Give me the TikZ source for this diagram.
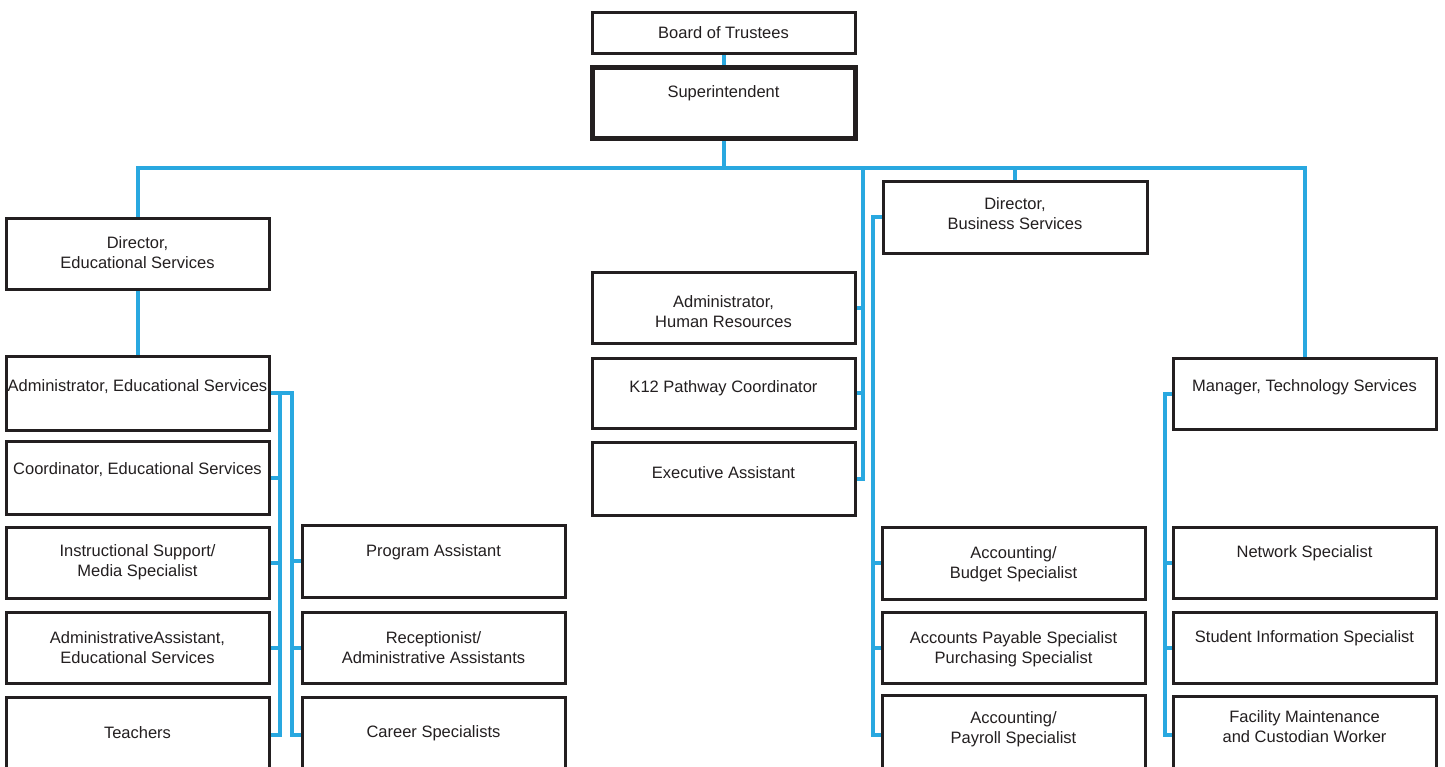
\documentclass[tikz,border=0pt]{standalone}
\usepackage{fontspec}
\setmainfont{Liberation Sans}
\definecolor{orgblue}{HTML}{29A8E0}
\definecolor{boxline}{HTML}{231F20}
\pgfdeclarelayer{back}
\pgfdeclarelayer{bg}
\pgfsetlayers{back,bg,main}
\tikzset{
  box/.style={draw=boxline, line width=3pt, inner sep=0pt, fill=white},
  bigbox/.style={box, line width=5pt},
  txt/.style={align=center, font=\fontsize{16.5}{20}\selectfont, text=boxline, inner sep=0pt},
  conn/.style={draw=orgblue, line width=4pt, line join=miter, line cap=butt}
}
% [style]{name}{x1}{y1}{x2}{y2}{text y}{text}
\newcommand\orgbox[8][box]{%
  \node[#1, minimum width={(#5-#3)*1pt}, minimum height={(#6-#4)*1pt}] (#2) at ({(#3+#5)/2},{(#4+#6)/2}) {};
  \node[txt] (#2t) at ({(#3+#5)/2},#7) {#8};
}
\begin{document}
\begin{tikzpicture}[x=1pt,y=-1pt]
\begin{pgfonlayer}{back}
\fill[white] (0,0) rectangle (1445,766);
\end{pgfonlayer}
\clip (0,0) rectangle (1445,766);
\useasboundingbox (0,0) rectangle (1445,766);

\orgbox{board}{592}{12}{855}{53}{33}{Board of Trustees}
\orgbox[bigbox]{super}{592}{67}{855}{138}{93}{Superintendent}
\orgbox{diredu}{6}{218}{269}{289}{253}{Director,\\Educational Services}
\orgbox{admedu}{6}{356}{269}{430}{387}{Administrator, Educational Services}
\orgbox{coord}{6}{441}{269}{514}{470}{Coordinator, Educational Services}
\orgbox{instr}{6}{527}{269}{598}{562}{Instructional Support/\\Media Specialist}
\orgbox{adasst}{6}{612}{269}{683}{648}{AdministrativeAssistant,\\Educational Services}
\orgbox{teach}{6}{697}{269}{773}{733}{Teachers}
\orgbox{prog}{302}{525}{565}{597}{552}{Program Assistant}
\orgbox{recep}{302}{612}{565}{683}{648}{Receptionist/\\Administrative Assistants}
\orgbox{career}{302}{697}{565}{773}{733}{Career Specialists}
\orgbox{hr}{592}{272}{855}{343}{312}{Administrator,\\Human Resources}
\orgbox{kpath}{592}{358}{855}{428}{388}{K12 Pathway Coordinator}
\orgbox{exec}{592}{442}{855}{515}{473}{Executive Assistant}
\orgbox{dirbus}{883}{181}{1147}{253}{214}{Director,\\Business Services}
\orgbox{budget}{882}{527}{1145}{599}{564}{Accounting/\\Budget Specialist}
\orgbox{payable}{882}{612}{1145}{683}{649}{Accounts Payable Specialist\\Purchasing Specialist}
\orgbox{payroll}{882}{695}{1145}{775}{729}{Accounting/\\Payroll Specialist}
\orgbox{mgrtech}{1173}{358}{1436}{429}{387}{Manager, Technology Services}
\orgbox{network}{1173}{527}{1436}{598}{553}{Network Specialist}
\orgbox{student}{1173}{612}{1436}{683}{638}{Student Information Specialist}
\orgbox{facility}{1173}{696}{1436}{774}{727}{Facility Maintenance\\and Custodian Worker}

\coordinate (busy) at (0,168);
\coordinate (L1) at (280,0);
\coordinate (L2) at (292,0);
\coordinate (M1) at (863,0);
\coordinate (M2) at (873,0);
\coordinate (R) at (1165,0);

\begin{pgfonlayer}{bg}
  % top
  \draw[conn] (board.south) -- (super.north);
  \draw[conn] (super.south) -- (super.south |- busy);
  \draw[conn] (diredu.north) -- (diredu.north |- busy) -- (mgrtech.north |- busy) -- (mgrtech.north);
  \draw[conn] (dirbus.north) -- (dirbus.north |- busy);
  \draw[conn] (diredu.south) -- (admedu.north);
  % left brackets
  \draw[conn] (admedu.east) -- (admedu.east -| L2) -- (L2 |- career.west) -- (career.west);
  \draw[conn] (admedu.east -| L1) -- (L1 |- teach.east) -- (teach.east);
  \draw[conn] (coord.east) -- (coord.east -| L1);
  \draw[conn] (instr.east) -- (instr.east -| L1);
  \draw[conn] (adasst.east) -- (adasst.east -| L1);
  \draw[conn] (prog.west) -- (prog.west -| L2);
  \draw[conn] (recep.west) -- (recep.west -| L2);
  % middle
  \draw[conn] (M1 |- busy) -- (M1 |- exec.east) -- (exec.east);
  \draw[conn] (hr.east) -- (hr.east -| M1);
  \draw[conn] (kpath.east) -- (kpath.east -| M1);
  \draw[conn] (dirbus.west) -- (dirbus.west -| M2) -- (M2 |- payroll.west) -- (payroll.west);
  \draw[conn] (budget.west) -- (budget.west -| M2);
  \draw[conn] (payable.west) -- (payable.west -| M2);
  % right
  \draw[conn] (mgrtech.west) -- (mgrtech.west -| R) -- (R |- facility.west) -- (facility.west);
  \draw[conn] (network.west) -- (network.west -| R);
  \draw[conn] (student.west) -- (student.west -| R);
\end{pgfonlayer}
\end{tikzpicture}
\end{document}
